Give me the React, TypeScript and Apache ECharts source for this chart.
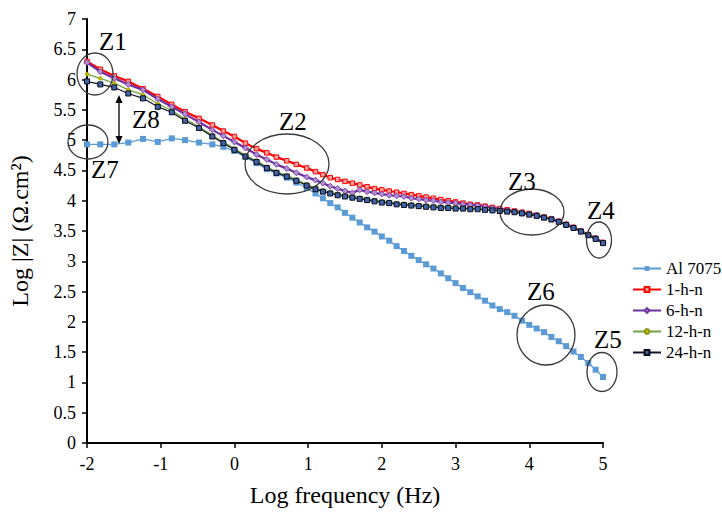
import React, { useEffect, useRef } from "react";
import * as echarts from "echarts";

const logFreq = [
  -2, -1.82, -1.63, -1.44, -1.24, -1.04, -0.85, -0.67, -0.48, -0.3, -0.15, 0, 0.15, 0.3, 0.44, 0.57, 0.71, 0.84, 0.98,
  1.1, 1.2, 1.3, 1.4, 1.5, 1.6, 1.7, 1.8, 1.9, 2.0,
  2.1, 2.2, 2.3, 2.4, 2.5, 2.6, 2.7, 2.8, 2.9, 3.0,
  3.1, 3.2, 3.3, 3.4, 3.5, 3.6, 3.7, 3.8, 3.9, 4.0,
  4.1, 4.2, 4.3, 4.4, 4.5, 4.6, 4.7, 4.8, 4.9, 5.0,
];

const al7075 = [
  4.93, 4.93, 4.93, 4.96, 5.02, 4.97, 5.03, 5.0, 4.96, 4.93, 4.89, 4.82, 4.72, 4.62, 4.52, 4.45, 4.38, 4.3, 4.21,
  4.12, 4.04, 3.96, 3.89, 3.8, 3.72, 3.64, 3.56, 3.49, 3.41,
  3.34, 3.25, 3.17, 3.09, 3.02, 2.95, 2.88, 2.8, 2.72, 2.64,
  2.56, 2.49, 2.42, 2.35, 2.27, 2.21, 2.16, 2.1, 2.02, 1.95,
  1.89, 1.83, 1.75, 1.68, 1.6, 1.51, 1.42, 1.32, 1.21, 1.09,
];

const h1 = [
  6.3, 6.17, 6.06, 5.97, 5.85, 5.72, 5.59, 5.47, 5.36, 5.25, 5.15, 5.06, 4.95, 4.86, 4.79, 4.72, 4.66, 4.6, 4.54,
  4.48, 4.43, 4.38, 4.35, 4.32, 4.29, 4.26, 4.23, 4.2, 4.18,
  4.16, 4.14, 4.12, 4.1, 4.08, 4.06, 4.04, 4.02, 4.0, 3.98,
  3.96, 3.94, 3.93, 3.91, 3.89, 3.87, 3.85, 3.83, 3.81, 3.79,
  3.76, 3.73, 3.7, 3.66, 3.61, 3.56, 3.5, 3.44, 3.38, 3.31,
];

const h6 = [
  6.28, 6.13, 6.02, 5.92, 5.83, 5.68, 5.55, 5.43, 5.3, 5.17, 5.07, 4.97, 4.87, 4.76, 4.68, 4.6, 4.53, 4.46, 4.39,
  4.34, 4.29, 4.24, 4.2, 4.16, 4.13, 4.18, 4.15, 4.13, 4.11,
  4.09, 4.08, 4.07, 4.04, 4.03, 4.01, 4.0, 3.98, 3.97, 3.96,
  3.94, 3.93, 3.92, 3.9, 3.88, 3.86, 3.84, 3.82, 3.8, 3.78,
  3.76, 3.73, 3.7, 3.66, 3.61, 3.56, 3.5, 3.44, 3.38, 3.31,
];

const h12 = [
  6.09, 6.02, 5.94, 5.83, 5.75, 5.6, 5.49, 5.35, 5.22, 5.08, 4.97, 4.86, 4.75, 4.66, 4.56, 4.48, 4.42, 4.35, 4.27,
  4.21, 4.17, 4.14, 4.11, 4.09, 4.07, 4.05, 4.03, 4.01, 3.99,
  3.98, 3.96, 3.95, 3.94, 3.93, 3.92, 3.91, 3.9, 3.9, 3.89,
  3.88, 3.88, 3.87, 3.86, 3.85, 3.84, 3.83, 3.82, 3.8, 3.78,
  3.76, 3.73, 3.7, 3.66, 3.61, 3.56, 3.5, 3.44, 3.38, 3.31,
];

const h24 = [
  5.97, 5.92, 5.87, 5.77, 5.69, 5.55, 5.46, 5.32, 5.2, 5.06, 4.95, 4.84, 4.73, 4.64, 4.54, 4.46, 4.4, 4.33, 4.25,
  4.19, 4.15, 4.12, 4.09, 4.07, 4.05, 4.03, 4.01, 3.99, 3.97,
  3.96, 3.94, 3.93, 3.92, 3.91, 3.9, 3.89, 3.88, 3.88, 3.87,
  3.87, 3.86, 3.86, 3.85, 3.84, 3.83, 3.82, 3.81, 3.79, 3.77,
  3.75, 3.72, 3.69, 3.65, 3.6, 3.55, 3.49, 3.43, 3.37, 3.3,
];

const seriesNames = ["Al 7075", "1-h-n", "6-h-n", "12-h-n", "24-h-n"];

const FONT = "Liberation Serif";

// annotation ellipses: [cx, cy, rx, ry]
const ellipses = [
  [95, 74, 18, 21],
  [88, 142, 20, 17],
  [287, 164, 42, 30],
  [532, 212, 32, 23],
  [599, 240, 12.5, 18],
  [546, 335, 29, 30],
  [602, 372, 15, 19.5],
];
// annotation labels: [text, left, centerY]
const zLabels: [string, number, number][] = [
  ["Z1", 99, 41],
  ["Z7", 91, 169],
  ["Z8", 132, 119],
  ["Z2", 279, 121],
  ["Z3", 508, 181],
  ["Z4", 587, 210],
  ["Z6", 527, 291],
  ["Z5", 594, 339],
];

function pairs(ys: number[]) {
  return ys.map((y, i) => [logFreq[i], y]);
}

export default function App() {
  const ref = useRef<HTMLDivElement>(null);
  useEffect(() => {
    document.body.style.margin = "0";
    const chart = echarts.init(ref.current!, undefined, { renderer: "svg" });

    const graphic: any[] = [];
    ellipses.forEach(([cx, cy, rx, ry]) => {
      graphic.push({
        type: "ellipse",
        shape: { cx, cy, rx, ry },
        style: { fill: "transparent", stroke: "#3a3a3a", lineWidth: 1.3 },
        z: 100,
      });
    });
    zLabels.forEach(([t, x, y]) => {
      graphic.push({
        type: "text",
        x,
        y,
        style: {
          text: t,
          fontFamily: FONT,
          fontSize: 25,
          fill: "#000",
          textAlign: "left",
          textVerticalAlign: "middle",
        },
        z: 100,
      });
    });
    // Z8 double arrow
    graphic.push({
      type: "line",
      shape: { x1: 119, y1: 100, x2: 119, y2: 139 },
      style: { stroke: "#000", lineWidth: 1.3 },
      z: 100,
    });
    graphic.push({
      type: "polygon",
      shape: { points: [[119, 95], [115.5, 103], [122.5, 103]] },
      style: { fill: "#000" },
      z: 100,
    });
    graphic.push({
      type: "polygon",
      shape: { points: [[119, 144], [115.5, 136], [122.5, 136]] },
      style: { fill: "#000" },
      z: 100,
    });

    const option: any = {
      animation: false,
      backgroundColor: "#fff",
      textStyle: { fontFamily: FONT },
      grid: { left: 87, right: 119, top: 19, bottom: 73, containLabel: false },
      legend: {
        orient: "vertical",
        left: 632,
        top: 260,
        padding: 0,
        itemWidth: 28,
        itemHeight: 6,
        itemGap: 4,
        textStyle: { fontFamily: FONT, fontSize: 17, color: "#000" },
        data: seriesNames,
      },
      xAxis: {
        type: "value",
        min: -2,
        max: 5,
        interval: 1,
        name: "Log frequency (Hz)",
        nameLocation: "middle",
        nameGap: 40,
        nameTextStyle: { fontFamily: FONT, fontSize: 24, color: "#000" },
        axisLine: { show: true, onZero: false, lineStyle: { color: "#000", width: 2 } },
        axisTick: { show: true, inside: false, length: 5, lineStyle: { color: "#000", width: 1.5 } },
        axisLabel: { fontFamily: FONT, fontSize: 18, color: "#000", margin: 12 },
        splitLine: { show: false },
      },
      yAxis: {
        type: "value",
        min: 0,
        max: 7,
        interval: 0.5,
        name: "Log |Z| (Ω.cm²)",
        nameLocation: "middle",
        nameGap: 55,
        nameRotate: 90,
        nameTextStyle: { fontFamily: FONT, fontSize: 24, color: "#000" },
        axisLine: { show: true, onZero: false, lineStyle: { color: "#000", width: 2 } },
        axisTick: { show: true, inside: false, length: 5, lineStyle: { color: "#000", width: 1.5 } },
        axisLabel: { fontFamily: FONT, fontSize: 18, color: "#000", margin: 11 },
        splitLine: { show: false },
      },
      series: [
        {
          name: "Al 7075",
          type: "line",
          data: pairs(al7075),
          symbol: "rect",
          symbolSize: 6,
          itemStyle: { color: "#5B9BD5" },
          lineStyle: { color: "#5B9BD5", width: 1.3 },
          z: 2,
        },
        {
          name: "1-h-n",
          type: "line",
          data: pairs(h1),
          symbol: "rect",
          symbolSize: 4.5,
          itemStyle: { color: "#FFA0A0", borderColor: "#FF0000", borderWidth: 1 },
          lineStyle: { color: "#FF0000", width: 2.2 },
          z: 3,
        },
        {
          name: "6-h-n",
          type: "line",
          data: pairs(h6),
          symbol: "diamond",
          symbolSize: 6,
          itemStyle: { color: "#B08FD0", borderColor: "#7030A0", borderWidth: 0.8 },
          lineStyle: { color: "#7030A0", width: 2.2 },
          z: 4,
        },
        {
          name: "12-h-n",
          type: "line",
          data: pairs(h12),
          symbol: "circle",
          symbolSize: 4,
          itemStyle: { color: "#C8B400", borderColor: "#8A9A20", borderWidth: 0.5 },
          lineStyle: { color: "#6FA543", width: 1.3 },
          z: 5,
        },
        {
          name: "24-h-n",
          type: "line",
          data: pairs(h24),
          symbol: "rect",
          symbolSize: 5,
          itemStyle: { color: "#3F64A8", borderColor: "#0A0A1A", borderWidth: 1 },
          lineStyle: { color: "#141428", width: 1.2 },
          z: 6,
        },
      ],
      graphic,
    };
    chart.setOption(option);
    return () => chart.dispose();
  }, []);
  return <div ref={ref} style={{ width: 722, height: 516 }} />;
}
